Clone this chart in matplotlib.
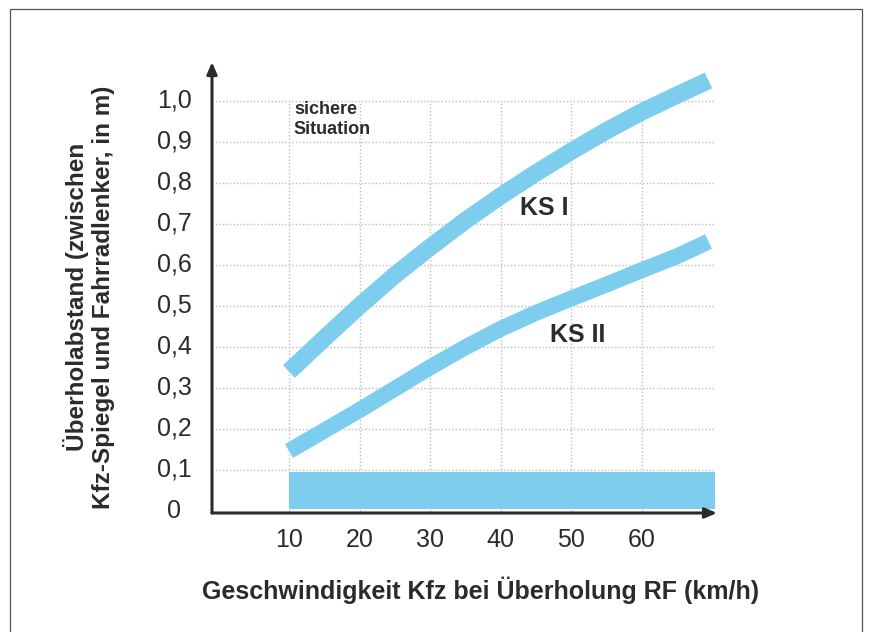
import numpy as np
import matplotlib.pyplot as plt
from matplotlib.patches import Rectangle

plt.rcParams['font.family'] = ['Liberation Sans', 'DejaVu Sans']

# Werte
geschw = [10, 15, 20, 25, 30, 35, 40, 45, 50, 55, 60, 65, 69.5]
ks1 = [0.34, 0.421, 0.50, 0.575, 0.643, 0.708, 0.768, 0.824, 0.877, 0.927, 0.973, 1.014, 1.05]
ks2 = [0.146, 0.196, 0.246, 0.298, 0.350, 0.399, 0.444, 0.483, 0.518, 0.552, 0.587, 0.621, 0.657]

# kritischer Bereich (Balken unten)
bereich_x = [10, 70.4]
bereich_y = [0.005, 0.095]

xticks = [10, 20, 30, 40, 50, 60]
yticks = [0, 0.1, 0.2, 0.3, 0.4, 0.5, 0.6, 0.7, 0.8, 0.9, 1.0]
ylabels = ['0', '0,1', '0,2', '0,3', '0,4', '0,5', '0,6', '0,7', '0,8', '0,9', '1,0']

blau = '#7dcdee'
dunkel = '#2b2b2b'

W, H = 877, 632
fig = plt.figure(figsize=(W / 100, H / 100), dpi=100)
fig.patch.set_facecolor('white')

# Rahmen um die ganze Grafik
fig.patches.append(Rectangle((10 / W, -0.05), 852 / W, 1 - 9 / H + 0.05,
                             transform=fig.transFigure, fill=False,
                             edgecolor='#555555', linewidth=0.9))

ax = fig.add_axes([212 / W, (H - 513) / H, (717 - 212) / W, (513 - 62) / H])
ax.set_xlim(-0.92, 70.7)
ax.set_ylim(-0.005, 1.095)
for s in ax.spines.values():
    s.set_visible(False)
ax.set_xticks([])
ax.set_yticks([])

# Gitter
ax.hlines(yticks[1:], -0.92, 70.4, colors='#bdbdbd', linestyles=(0, (1, 1.5)), linewidth=1, zorder=1)
ax.vlines(xticks, 0, 1.0, colors='#bdbdbd', linestyles=(0, (1, 1.5)), linewidth=1, zorder=1)

ax.fill_between(bereich_x, bereich_y[0], bereich_y[1], color=blau, linewidth=0, zorder=2)

ax.plot(geschw, ks1, color=blau, linewidth=12.5, solid_capstyle='butt', solid_joinstyle='round', zorder=3)
ax.plot(geschw, ks2, color=blau, linewidth=11.5, solid_capstyle='butt', solid_joinstyle='round', zorder=3)

# Achsen mit Pfeilen
for ende in [(1, 0), (0, 1)]:
    ax.annotate('', xy=ende, xytext=(0, 0), xycoords='axes fraction',
                arrowprops=dict(arrowstyle='-|>,head_length=0.7,head_width=0.3', color=dunkel,
                                linewidth=2.2, shrinkA=0, shrinkB=0), annotation_clip=False)

# Beschriftung der Achsen
for v in xticks:
    ax.annotate(str(v), xy=(v, 0), xycoords=('data', 'axes fraction'), xytext=(0, -19.5),
                textcoords='offset points', ha='center', va='center', fontsize=18,
                color=dunkel, annotation_clip=False)
for v, t in zip(yticks, ylabels):
    ax.annotate(t, xy=(0, v), xycoords=('axes fraction', 'data'), xytext=(-27, 0),
                textcoords='offset points', ha='center', va='center', fontsize=18,
                color=dunkel, annotation_clip=False)

ax.text(46.2, 0.74, 'KS I', fontsize=18, fontweight='bold', color=dunkel, ha='center', va='center')
ax.text(51.0, 0.43, 'KS II', fontsize=18, fontweight='bold', color=dunkel, ha='center', va='center')
ax.text(10.7, 1.0, 'sichere\nSituation', fontsize=13, fontweight='bold', color=dunkel,
        ha='left', va='top')

fig.text(481 / W, 1 - 590 / H, 'Geschwindigkeit Kfz bei Überholung RF (km/h)',
         fontsize=18, fontweight='bold', color=dunkel, ha='center', va='center')
fig.text(89 / W, 1 - 297 / H, 'Überholabstand (zwischen\nKfz-Spiegel und Fahrradlenker, in m)',
         fontsize=17.5, fontweight='bold', color=dunkel, ha='center', va='center',
         rotation=90, multialignment='center')

fig.savefig('out.png', dpi=100, facecolor='white')
